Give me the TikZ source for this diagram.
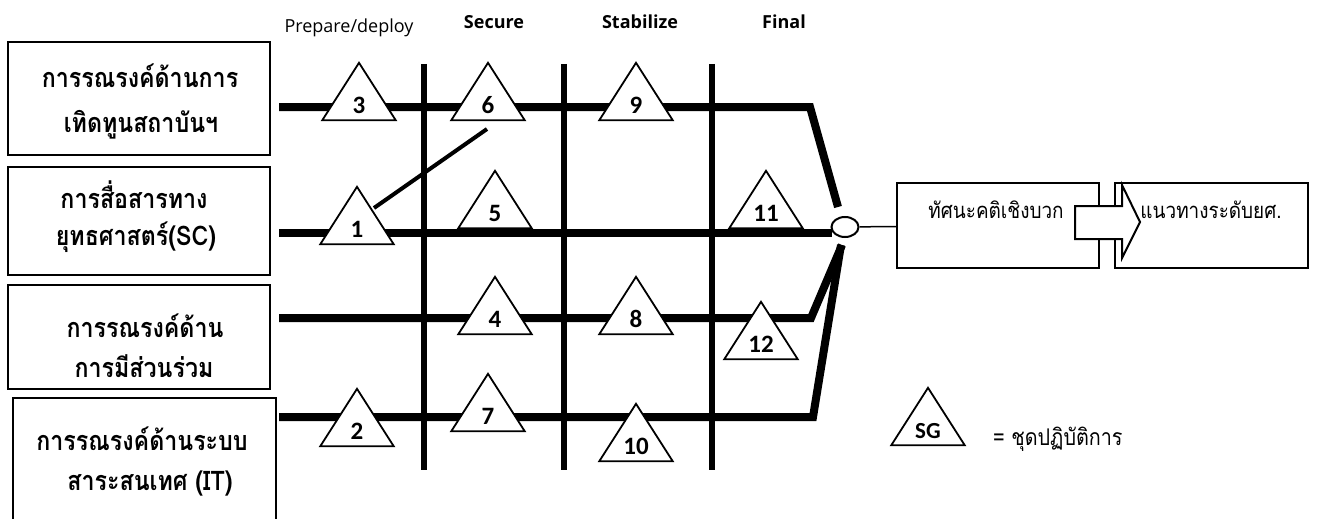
\documentclass[tikz,border=0pt]{standalone}
\usepackage{fontspec}
\setmainfont{Open Sans}
\newfontfamily\thai[Script=Thai, FakeStretch=0.86]{Loma}
\newfontfamily\calib{Carlito}
\usetikzlibrary{shapes.geometric}
\tikzset{
  lbox/.style={draw, line width=2pt, inner sep=0pt},
  ltext/.style={font=\thai\bfseries\fontsize{27}{30}\selectfont, inner sep=0pt, anchor=base},
  rbox/.style={draw, line width=2pt, inner sep=0pt, minimum height=85pt},
  rtext/.style={font=\thai\fontsize{22}{24}\selectfont, inner sep=0pt, anchor=base},
  hdr/.style={font=\fontsize{18}{20}\selectfont, inner sep=0pt, anchor=base},
  hdrb/.style={font=\bfseries\fontsize{18}{20}\selectfont, inner sep=0pt, anchor=base},
  hbar/.style={line width=8pt, line join=miter},
  vbar/.style={line width=5.5pt},
  tribox/.style={minimum width=73pt, minimum height=57pt, inner sep=0pt},
  tri/.style={draw, fill=white, line width=1.8pt, line join=miter},
  trinum/.style={font=\calib\bfseries\fontsize{25}{30}\selectfont, inner sep=0pt, anchor=base},
  circ/.style={ellipse, draw, fill=white, line width=2pt, minimum width=27pt, minimum height=20pt, inner sep=0pt},
}
\newcommand\tri[4]{%
  \node[tribox] (#1) at (#2,#3+28.5) {};
  \draw[tri] (#1.south west) -- (#1.north) -- (#1.south east) -- cycle;
  \node[trinum] (#1n) at ([yshift=6.5pt]#1.south) {#4};
}
\begin{document}
\begin{tikzpicture}[x=1pt,y=-1pt]
\useasboundingbox (0,0) rectangle (1317,519);
% left boxes
\node[lbox, minimum width=262pt, minimum height=113pt] (b1) at (139,98.5) {};
\node[lbox, minimum width=262pt, minimum height=108pt] (b2) at (139,221) {};
\node[lbox, minimum width=262pt, minimum height=104pt] (b3) at (139,337) {};
\node[lbox, minimum width=263pt, minimum height=132pt, line width=1.6pt] (b4) at (144.5,464) {};
\node[ltext] (b1a) at (140,88) {การรณรงค์ด้านการ};
\node[ltext] (b1b) at (141,132) {เทิดทูนสถาบันฯ};
\node[ltext] (b2a) at (134,208) {การสื่อสารทาง};
\node[ltext] (b2b) at (136,245) {ยุทธศาสตร์(SC)};
\node[ltext] (b3a) at (145,337) {การรณรงค์ด้าน};
\node[ltext] (b3b) at (144,377) {การมีส่วนร่วม};
\node[ltext] (b4a) at (142,450) {การรณรงค์ด้านระบบ};
\node[ltext] (b4b) at (150,490) {สาระสนเทศ (IT)};
% headers
\node[hdr] (h1) at (349,33) {Prepare/deploy};
\node[hdrb] (h2) at (494,29) {Secure};
\node[hdrb] (h3) at (640,29) {Stabilize};
\node[hdrb] (h4) at (784,29) {Final};
% vertical bars
\coordinate (v1t) at (424,64); \coordinate (v1b) at (424,470);
\coordinate (v2t) at (564,64); \coordinate (v2b) at (564,470);
\coordinate (v3t) at (712,64); \coordinate (v3b) at (712,470);
\draw[vbar] (v1t) -- (v1b);
\draw[vbar] (v2t) -- (v2b);
\draw[vbar] (v3t) -- (v3b);
% horizontal bars
\coordinate (a1) at (279,107); \coordinate (e1) at (810,107); \coordinate (c1) at (838,207);
\coordinate (a2) at (279,233); \coordinate (e2) at (832,233);
\coordinate (a3) at (279,318); \coordinate (e3) at (811,318); \coordinate (c3) at (842,245);
\coordinate (a4) at (279,417); \coordinate (e4) at (813,417); \coordinate (c4) at (841,245);
\draw[hbar] (a1) -- (e1) -- (c1);
\draw[hbar] (a2) -- (e2);
\draw[hbar] (a3) -- (e3) -- (c3);
\draw[hbar] (a4) -- (e4) -- (c4);
% triangles
\tri{t3}{359}{63}{3}
\tri{t6}{488}{63}{6}
\tri{t9}{636}{63}{9}
\tri{t1}{357}{187}{1}
\tri{t5}{495}{171}{5}
\tri{t11}{766}{171}{11}
\tri{t4}{495}{277}{4}
\tri{t8}{636}{277}{8}
\tri{t12}{761}{302}{12}
\tri{t2}{357}{389}{2}
\tri{t7}{488}{374}{7}
\tri{t10}{636}{404}{10}
% diagonal link
\coordinate (d1) at (374,208); \coordinate (d2) at (487,129);
\draw[line width=4pt] (d1) -- (d2);
% junction circle
\node[circ] (o) at (845,227) {};
% right boxes
\node[rbox, minimum width=202pt] (A) at (998,225.5) {};
\node[rbox, minimum width=193pt] (B) at (1211.5,225.5) {};
\draw[line width=1.5pt] (o) -- (A);
\draw[fill=white, line width=2pt, line join=miter] (1075,206) -- (1122,206) -- (1122,185) -- (1140,222) -- (1122,258) -- (1122,239) -- (1075,239) -- cycle;
\node[rtext] (At) at (996,218) {ทัศนะคติเชิงบวก};
\node[rtext] (Bt) at (1211,218) {แนวทางระดับยศ.};
% legend
\tri{sg}{928}{388}{\fontsize{23}{25}\selectfont SG}
\node[rtext, anchor=base west, font=\thai\fontsize{23}{25}\selectfont] (lg) at (993,445) {= ชุดปฏิบัติการ};
\end{tikzpicture}
\end{document}
